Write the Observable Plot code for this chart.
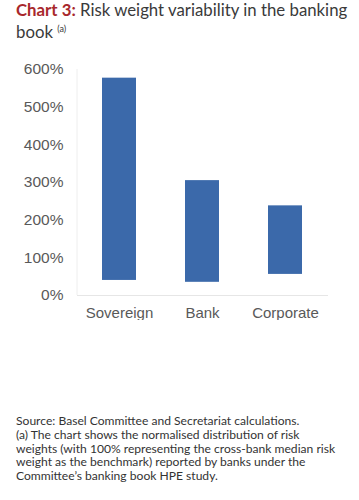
<!DOCTYPE html>
<html>
<head>
<meta charset="utf-8">
<script src="https://cdn.jsdelivr.net/npm/d3@7"></script>
<script src="https://cdn.jsdelivr.net/npm/@observablehq/plot@0.6"></script>
<style>
  html, body { margin: 0; padding: 0; background: #fff; }
  body { width: 359px; height: 500px; position: relative; overflow: hidden; }
  #title { position: absolute; left: 16px; top: 0px; font-family: Lato, "Open Sans", sans-serif; font-size: 16.8px; line-height: 19px; color: #3a3a3a; white-space: nowrap; }
  #title b { color: #a8282c; }
  #title sup { font-size: 9px; vertical-align: 6px; }
  #chart { position: absolute; left: 0; top: 50px; }
  #note { position: absolute; left: 16px; top: 414px; font-family: Lato, "Open Sans", sans-serif; font-size: 12.1px; line-height: 13.8px; color: #333; white-space: nowrap; }
</style>
</head>
<body>
<div id="title"><b>Chart 3:</b> Risk weight variability in the banking<br>book <sup>(a)</sup></div>
<div id="chart"></div>
<div id="note">Source: Basel Committee and Secretariat calculations.<br>(a) The chart shows the normalised distribution of risk<br>weights (with 100% representing the cross-bank median risk<br>weight as the benchmark) reported by banks under the<br>Committee’s banking book HPE study.</div>
<script>
const categories = ["Sovereign", "Bank", "Corporate"];
const lowValues = [40, 35, 56];
const highValues = [577, 305, 238];
const yTicks = [0, 100, 200, 300, 400, 500, 600];

const data = categories.map((c, i) => ({category: c, low: lowValues[i], high: highValues[i]}));

const chart = Plot.plot({
  width: 359,
  height: 270,
  marginTop: 19,
  marginBottom: 25,
  marginLeft: 77,
  marginRight: 31,
  style: { fontFamily: "'Liberation Sans', Arial, sans-serif", fontSize: "15px", color: "#595959", background: "#fff" },
  x: { domain: categories, paddingInner: 0.59, paddingOuter: 0.295, label: null, tickSize: 0, tickPadding: 12 },
  y: { domain: [0, 600], ticks: yTicks, tickFormat: d => d + "%", label: null, tickSize: 0, tickPadding: 14 },
  marks: [
    Plot.ruleY([0], { stroke: "#e6e6e6", strokeWidth: 1 }),
    Plot.barY(data, { x: "category", y1: "low", y2: "high", fill: "#3b69aa" })
  ]
});
const svg = d3.select(chart);
svg.selectAll("[aria-label='y-axis tick label'] text, g[aria-label='y-axis tick label']").style("font-size", "15.5px");
// faint vertical axis line along the left edge of the plot area
svg.append("line")
  .attr("x1", 77).attr("x2", 77)
  .attr("y1", 19).attr("y2", 245)
  .attr("stroke", "#eeeeee");
document.getElementById("chart").appendChild(chart);
</script>
</body>
</html>
